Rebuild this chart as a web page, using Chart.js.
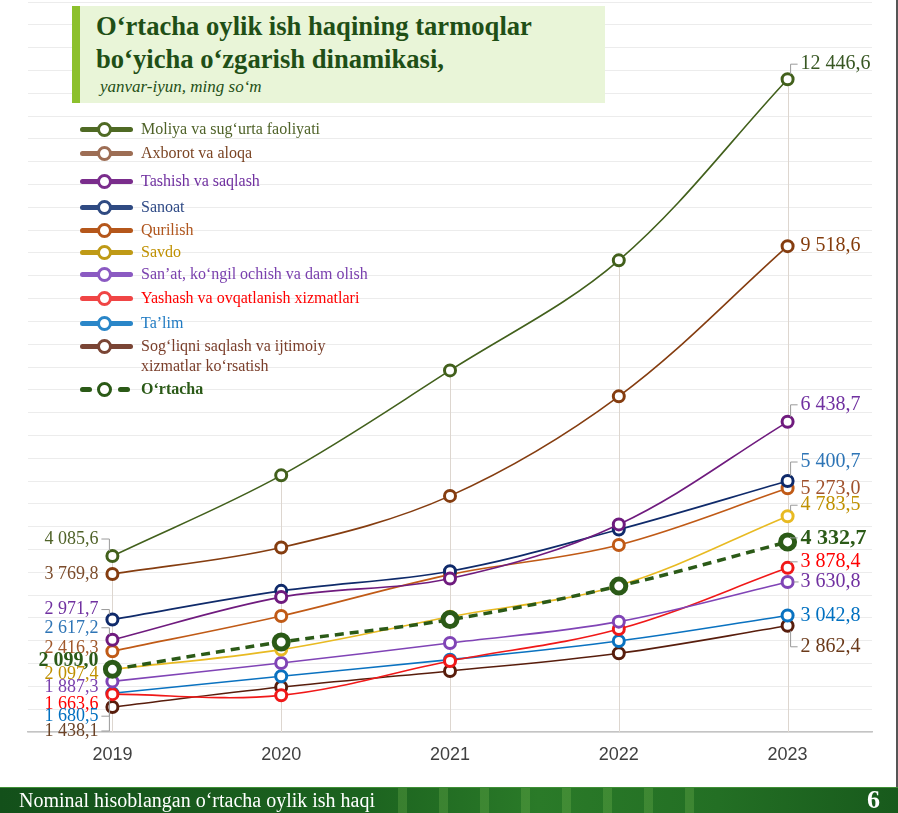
<!DOCTYPE html>
<html>
<head>
<meta charset="utf-8">
<script src="https://cdn.jsdelivr.net/npm/chart.js@4.4.1/dist/chart.umd.min.js"></script>
<style>
  html, body { margin: 0; padding: 0; background: #fff; }
  #wrap { position: relative; width: 898px; height: 813px; overflow: hidden; font-family: "Liberation Serif", "Times New Roman", serif; }
  #chartBox { position: absolute; left: 0; top: 0; width: 898px; height: 787px; }
  #titleBox { position: absolute; left: 72px; top: 6px; width: 533px; height: 97px; background: #e9f5d8; border-left: 8px solid #8cc02c; box-sizing: border-box; }
  #titleBox .t { position: absolute; left: 16px; font-weight: bold; font-size: 26.6px; color: #1f4f16; white-space: nowrap; line-height: 30px; }
  #titleBox .s { position: absolute; left: 20px; top: 71px; font-style: italic; font-size: 17px; color: #1f4f16; white-space: nowrap; }
  #legend { position: absolute; left: 80px; top: 0; }
  .item { position: absolute; left: 0; height: 20px; white-space: nowrap; }
  .mk { position: absolute; left: 0; top: 0; width: 54px; height: 20px; }
  .mk .ln { position: absolute; left: 0; top: 8px; width: 53px; height: 5px; border-radius: 3px; }
  .mk .dot { position: absolute; left: 17px; top: 3px; width: 9px; height: 9px; border-radius: 50%; background: #fff; border: 3px solid; }
  .item .tx { position: absolute; left: 61px; top: 0; font-size: 16px; line-height: 20px; }
  #footer { position: absolute; left: 0; top: 787px; width: 898px; height: 26px;
    border-top: 1px solid #3f8f35; box-sizing: border-box;
    background: linear-gradient(90deg, #13501a 0%, #1c631f 40%, #2a7a28 60%, #236f24 80%, #185a1c 100%); }
  #footer .blocks { position: absolute; left: 380px; top: 0; width: 330px; height: 25px;
    background:
      repeating-linear-gradient(90deg, rgba(255,255,255,0) 0 18px, rgba(150,210,100,0.22) 18px 27px, rgba(255,255,255,0) 27px 41px); }
  #footer .l { position: absolute; left: 19px; top: 1px; color: #fff; font-size: 20px; line-height: 22px; }
  #footer .r { position: absolute; right: 18px; top: -1px; color: #fff; font-size: 26px; font-weight: bold; line-height: 26px; }
  #edge { position: absolute; right: 0; top: 0; width: 2px; height: 787px; background: #555; }
</style>
</head>
<body>
<div id="wrap">
  <div id="chartBox"><canvas id="c"></canvas></div>
  <div id="titleBox">
    <div class="t" style="top:5px">O‘rtacha oylik ish haqining tarmoqlar</div>
    <div class="t" style="top:38px">bo‘yicha o‘zgarish dinamikasi,</div>
    <div class="s">yanvar-iyun, ming so‘m</div>
  </div>
  <div id="legend"></div>
  <div id="footer"><div class="blocks"></div><span class="l">Nominal hisoblangan o‘rtacha oylik ish haqi</span><span class="r">6</span></div>
  <div id="edge"></div>
</div>
<script>
// --- Data ---
const years = ['2019', '2020', '2021', '2022', '2023'];
const moliya   = [4085.6, 5500, 7340, 9270, 12446.6];
const axborot  = [3769.8, 4235, 5140, 6885, 9518.6];
const tashish  = [2617.2, 3365, 3690, 4640, 6438.7];
const sanoat   = [2971.7, 3475, 3820, 4550, 5400.7];
const qurilish = [2416.3, 3035, 3760, 4280, 5273.0];
const savdo    = [2097.4, 2445, 3020, 3570, 4783.5];
const sanat    = [1887.3, 2210, 2560, 2935, 3630.8];
const yashash  = [1663.6, 1643, 2245, 2805, 3878.4];
const talim    = [1680.5, 1977, 2269, 2596, 3042.8];
const sogliq   = [1438.1, 1789, 2069, 2380, 2862.4];
const ortacha  = [2099.0, 2578, 2971, 3558, 4332.7];

const names = [
    'Moliya va sug‘urta faoliyati',
    'Axborot va aloqa',
    'Tashish va saqlash',
    'Sanoat',
    'Qurilish',
    'Savdo',
    'San’at, ko‘ngil ochish va dam olish',
    'Yashash va ovqatlanish xizmatlari',
    'Ta’lim',
    'Sog‘liqni saqlash va ijtimoiy\nxizmatlar ko‘rsatish',
    'O‘rtacha'
];
const values = [moliya, axborot, tashish, sanoat, qurilish, savdo, sanat, yashash, talim, sogliq, ortacha];

// --- Styles (kept apart from the data) ---
const lineColors   = ['#42601c', '#853d10', '#6f1b7e', '#0f2a6a', '#c05a16', '#e8ba22', '#8044b6', '#f01818', '#0a72c0', '#581d0c', '#2b5a17'];
const legendLines  = ['#4f6a24', '#9d6e55', '#7a2d8c', '#2f4a82', '#b5571b', '#bf9a16', '#8b5ac2', '#f04545', '#2a86c8', '#7a4535', '#2b5a17'];
const legendText   = ['#4f6228', '#7b4524', '#7030a0', '#2f4a86', '#b0561e', '#bf9000', '#7a40ae', '#ff0000', '#1f7ac2', '#7a3e2a', '#2b5a17'];
const legendTops   = [119, 143, 171, 197, 220, 242, 264, 288, 313, 336, 379];
// label colours and pixel offsets of the value labels (left = 2019, right = 2023)
const leftColors   = ['#4f6228', '#7b4b2a', '#2e75b6', '#7030a0', '#a0582a', '#bf9000', '#7a40ae', '#ff0000', '#0070c0', '#6b4226', '#2b5a17'];
const rightColors  = ['#385723', '#843c0c', '#7030a0', '#2e75b6', '#a0522d', '#bf9000', '#7030a0', '#ff0000', '#0070c0', '#6b3a1a', '#2b5a17'];
const leftDy       = [-17, 0, -12, -10, -3, 5, 6, 10, 23, 24, -8];
const leftLeader   = [true, false, true, true, false, false, false, false, true, true, false];
const rightDy      = [-15, 0, -17, -19, 0, -11, 0, -6, 0, 21, -4];
const rightLeader  = [true, false, true, true, false, true, true, true, false, true, true];

function fmt(v) {
    const parts = v.toFixed(1).split('.');
    return parts[0].replace(/\B(?=(\d{3})+(?!\d))/g, ' ') + ',' + parts[1];
}

// --- Legend (HTML) ---
const legendEl = document.getElementById('legend');
names.forEach((n, i) => {
    const it = document.createElement('div');
    it.className = 'item';
    it.style.top = legendTops[i] + 'px';
    const isAvg = i === names.length - 1;
    let mk;
    if (isAvg) {
        mk = '<div class="mk">' +
            '<div class="ln" style="left:0;width:12px;background:' + legendLines[i] + '"></div>' +
            '<div class="ln" style="left:38px;width:12px;background:' + legendLines[i] + '"></div>' +
            '<div class="dot" style="border-color:' + legendLines[i] + '"></div></div>';
    } else {
        mk = '<div class="mk"><div class="ln" style="background:' + legendLines[i] + '"></div>' +
            '<div class="dot" style="border-color:' + legendLines[i] + '"></div></div>';
    }
    const txt = n.replace('\n', '<br>');
    it.innerHTML = mk + '<div class="tx" style="color:' + legendText[i] + ';' + (isAvg ? 'font-weight:bold;' : '') + '">' + txt + '</div>';
    legendEl.appendChild(it);
});

// --- Plugins ---
const dropLines = {
    id: 'dropLines',
    beforeDatasetsDraw(chart) {
        const { ctx, chartArea, scales: { x, y } } = chart;
        ctx.save();
        ctx.strokeStyle = '#ddd6cf';
        ctx.lineWidth = 1;
        years.forEach((yr, i) => {
            const top = Math.max(...values.map(s => s[i]));
            const px = Math.round(x.getPixelForValue(i)) + 0.5;
            ctx.beginPath();
            ctx.moveTo(px, y.getPixelForValue(top));
            ctx.lineTo(px, chartArea.bottom);
            ctx.stroke();
        });
        ctx.restore();
    }
};

const endLabels = {
    id: 'endLabels',
    afterDatasetsDraw(chart) {
        const { ctx, scales: { x, y } } = chart;
        const last = years.length - 1;
        ctx.save();
        ctx.textBaseline = 'middle';
        values.forEach((s, i) => {
            const isAvg = i === values.length - 1;
            // left side (first year)
            const lx = x.getPixelForValue(0);
            const ly = y.getPixelForValue(s[0]);
            const lty = ly + leftDy[i];
            ctx.font = isAvg ? 'bold 20px "Liberation Serif", serif' : '18px "Liberation Serif", serif';
            ctx.fillStyle = leftColors[i];
            ctx.textAlign = 'right';
            ctx.fillText(fmt(s[0]), lx - 14, lty);
            if (leftLeader[i]) {
                ctx.strokeStyle = '#9a9a9a';
                ctx.lineWidth = 1;
                const dir = leftDy[i] < 0 ? 1 : -1;
                ctx.beginPath();
                ctx.moveTo(lx - 11, lty);
                ctx.lineTo(lx - 3, lty);
                ctx.lineTo(lx - 3, ly - dir * 5);
                ctx.stroke();
            }
            // right side (last year)
            const rx = x.getPixelForValue(last);
            const ry = y.getPixelForValue(s[last]);
            const rty = ry + rightDy[i];
            ctx.font = isAvg ? 'bold 22px "Liberation Serif", serif' : '20px "Liberation Serif", serif';
            ctx.fillStyle = rightColors[i];
            ctx.textAlign = 'left';
            ctx.fillText(fmt(s[last]), rx + 13, rty);
            if (rightLeader[i]) {
                ctx.strokeStyle = '#9a9a9a';
                ctx.lineWidth = 1;
                const dir = rightDy[i] < 0 ? 1 : (rightDy[i] > 0 ? -1 : 0);
                ctx.beginPath();
                if (dir === 0) {
                    ctx.moveTo(rx + 6, rty);
                    ctx.lineTo(rx + 11, rty);
                } else {
                    ctx.moveTo(rx + 3, ry - dir * 5);
                    ctx.lineTo(rx + 3, rty);
                    ctx.lineTo(rx + 10, rty);
                }
                ctx.stroke();
            }
        });
        ctx.restore();
    }
};

// --- Chart ---
const datasets = values.map((s, i) => {
    const isAvg = i === values.length - 1;
    return {
        label: names[i],
        data: s,
        borderColor: lineColors[i],
        backgroundColor: '#ffffff',
        borderWidth: isAvg ? 3.5 : 1.6,
        borderDash: isAvg ? [9, 6] : [],
        tension: 0.35,
        fill: false,
        clip: false,
        pointRadius: isAvg ? 7 : 5.5,
        pointBorderWidth: isAvg ? 5 : 3,
        pointBackgroundColor: '#ffffff',
        pointBorderColor: lineColors[i],
        order: isAvg ? -1 : i
    };
});

new Chart(document.getElementById('c'), {
    type: 'line',
    data: { labels: years, datasets: datasets },
    options: {
        responsive: true,
        maintainAspectRatio: false,
        animation: false,
        layout: { autoPadding: false, padding: { left: 28, right: 26, top: 2, bottom: 0 } },
        plugins: { legend: { display: false }, tooltip: { enabled: false } },
        scales: {
            x: {
                offset: true,
                grid: { display: false, drawTicks: false },
                border: { display: true, color: '#c4c4c4', width: 1.5 },
                ticks: {
                    color: '#404040',
                    padding: 12,
                    font: { family: '"Liberation Sans", Arial, sans-serif', size: 18 }
                },
                afterFit(scale) { scale.height = 55; }
            },
            y: {
                min: 1000,
                max: 13800,
                ticks: { display: false, stepSize: 400 },
                grid: { color: '#ececec', lineWidth: 1, drawTicks: false },
                border: { display: false },
                afterFit(scale) { scale.width = 0; }
            }
        }
    },
    plugins: [dropLines, endLabels]
});
</script>
</body>
</html>
